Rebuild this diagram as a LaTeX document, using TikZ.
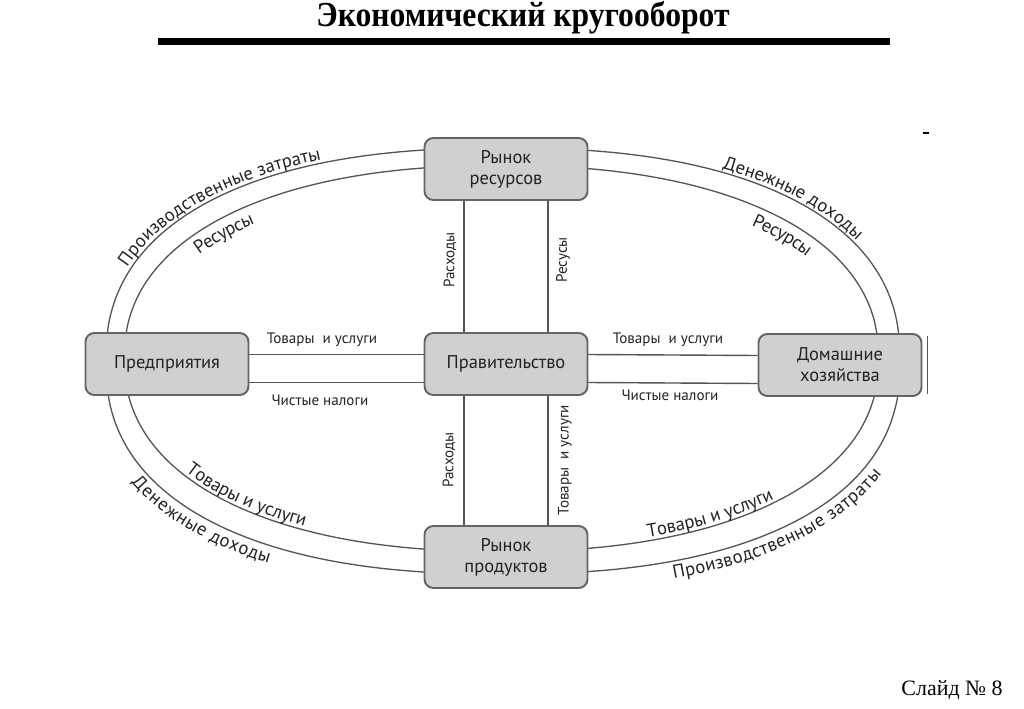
\documentclass[tikz,border=0pt]{standalone}
\usepackage{fontspec}
\setmainfont{Liberation Serif}
\newfontfamily\labfont{PT Sans}
\usetikzlibrary{decorations.text}

\definecolor{boxfill}{RGB}{208,208,208}
\definecolor{boxline}{RGB}{100,100,100}
\definecolor{ringline}{RGB}{85,85,85}
\definecolor{inkgray}{RGB}{35,35,35}
\newcommand{\curvefont}{\labfont\fontsize{10.6}{12}\selectfont\color{inkgray}}
% rounded rings: outer and inner, as functions of a parameter
\newcommand{\outerx}[1]{503+397*sign(cos(#1))*abs(cos(#1))^0.851}
\newcommand{\outery}[1]{347+213*sign(sin(#1))*abs(sin(#1))^0.851}
\newcommand{\innerx}[1]{501.5+377*sign(cos(#1))*abs(cos(#1))^0.889}
\newcommand{\innery}[1]{349.5+193*sign(sin(#1))*abs(sin(#1))^0.889}

\begin{document}
\begin{tikzpicture}[x=0.02cm, y=0.02cm,
    unit/.style={draw=boxline, line width=1.1pt, fill=boxfill, rounded corners=5pt,
        minimum width=3.26cm, minimum height=1.24cm, align=center, inner sep=0pt,
        font=\labfont\fontsize{10.5}{11.8}\selectfont, text=inkgray},
    ring/.style={draw=ringline, line width=0.75pt},
    flow/.style={draw=ringline, line width=0.8pt},
    lab/.style={font=\labfont\fontsize{8.6}{10}\selectfont, text=inkgray, inner sep=1pt},
    arclab/.style={decorate, decoration={text along path, raise=#1}}]
    \useasboundingbox (0,0) rectangle (1024,708);

    % Title
    \node[anchor=base, inner sep=0pt, font=\bfseries\fontsize{20}{24}\selectfont] (title) at (523,681)
        {\scalebox{0.9}[1]{Экономический кругооборот}};
    \draw[line width=0.14cm] (158,666.5) -- (890,666.5);
    \draw[line width=1.2pt] (923,575) -- (929,575);

    % The two rings
    \draw[ring] plot[domain=0.5:358.5, samples=180, smooth cycle, variable=\t] ({\outerx{\t}}, {\outery{\t}});
    \draw[ring] plot[domain=0.5:358.5, samples=180, smooth cycle, variable=\t] ({\innerx{\t}}, {\innery{\t}});

    % Labels along the rings: top half (running clockwise)
    \path[arclab=2pt, decoration={text={|\curvefont|Производственные затраты}}]
        plot[domain=-158.3:-60.3, samples=99, variable=\t] ({\outerx{-\t}}, {\outery{-\t}});
    \path[arclab=-11pt, decoration={text={|\curvefont|Ресурсы}}]
        plot[domain=-144.3:-79.3, samples=66, variable=\t] ({\innerx{-\t}}, {\innery{-\t}});
    \path[arclab=2pt, decoration={text={|\curvefont|Денежные доходы}}]
        plot[domain=-60.3:9.7, samples=71, variable=\t] ({\outerx{-\t}}, {\outery{-\t}});
    \path[arclab=-11pt, decoration={text={|\curvefont|Ресурсы}}]
        plot[domain=-49.3:18.7, samples=69, variable=\t] ({\innerx{-\t}}, {\innery{-\t}});

    % Labels along the rings: bottom half (running anticlockwise)
    \path[arclab=2pt, decoration={text={|\curvefont|Товары и услуги}}]
        plot[domain=214.3:290.3, samples=77, variable=\t] ({\innerx{\t}}, {\innery{\t}});
    \path[arclab=-10pt, decoration={text={|\curvefont|Денежные доходы}}]
        plot[domain=207.3:280.3, samples=74, variable=\t] ({\outerx{\t}}, {\outery{\t}});
    \path[arclab=2pt, decoration={text={|\curvefont|Товары и услуги}}]
        plot[domain=290.3:360.3, samples=71, variable=\t] ({\innerx{\t}}, {\innery{\t}});
    \path[arclab=-10pt, decoration={text={|\curvefont|Производственные затраты}}]
        plot[domain=291.3:380.3, samples=90, variable=\t] ({\outerx{\t}}, {\outery{\t}});

    % Markets and sectors
    \node[unit] (res) at (506,539) {Рынок\\ресурсов};
    \node[unit] (gov) at (506,344) {Правительство};
    \node[unit] (firms) at (167,344) {Предприятия};
    \node[unit] (house) at (840,343) {Домашние\\хозяйства};
    \node[unit] (prod) at (506,151) {Рынок\\продуктов};
    \draw[flow] ([xshift=0.1cm, yshift=-0.06cm]house.north east) -- ([xshift=0.1cm, yshift=0.06cm]house.south east);

    % Vertical links
    \draw[flow] ([xshift=-0.84cm]res.south) -- ([xshift=-0.84cm]gov.north);
    \draw[flow] ([xshift=0.84cm]res.south) -- ([xshift=0.84cm]gov.north);
    \draw[flow] ([xshift=-0.84cm]gov.south) -- ([xshift=-0.84cm]prod.north);
    \draw[flow] ([xshift=0.84cm]gov.south) -- ([xshift=0.84cm]prod.north);

    % Horizontal links
    \draw[flow] ([yshift=0.19cm]firms.east) -- ([yshift=0.19cm]gov.west);
    \draw[flow] ([yshift=-0.37cm]firms.east) -- ([yshift=-0.37cm]gov.west);
    \draw[flow] ([yshift=0.19cm]gov.east) -- ([yshift=0.19cm]house.west);
    \draw[flow] ([yshift=-0.37cm]gov.east) -- ([yshift=-0.37cm]house.west);

    \node[lab] (goodsL) at (322,368) {Товары\ \ и услуги};
    \node[lab] (taxL) at (320,308) {Чистые налоги};
    \node[lab] (goodsR) at (668,368) {Товары\ \ и услуги};
    \node[lab] (taxR) at (670,313) {Чистые налоги};
    \node[lab, rotate=90] (spendT) at (450,448) {Расходы};
    \node[lab, rotate=90] (resT) at (563,448) {Ресусы};
    \node[lab, rotate=90] (spendB) at (449,248) {Расходы};
    \node[lab, rotate=90] (goodsB) at (565,248) {Товары\ \ и услуги};

    % Slide number
    \node[font=\fontsize{12.5}{15}\selectfont] (slide) at (952,18) {Слайд № 8};
\end{tikzpicture}
\end{document}
